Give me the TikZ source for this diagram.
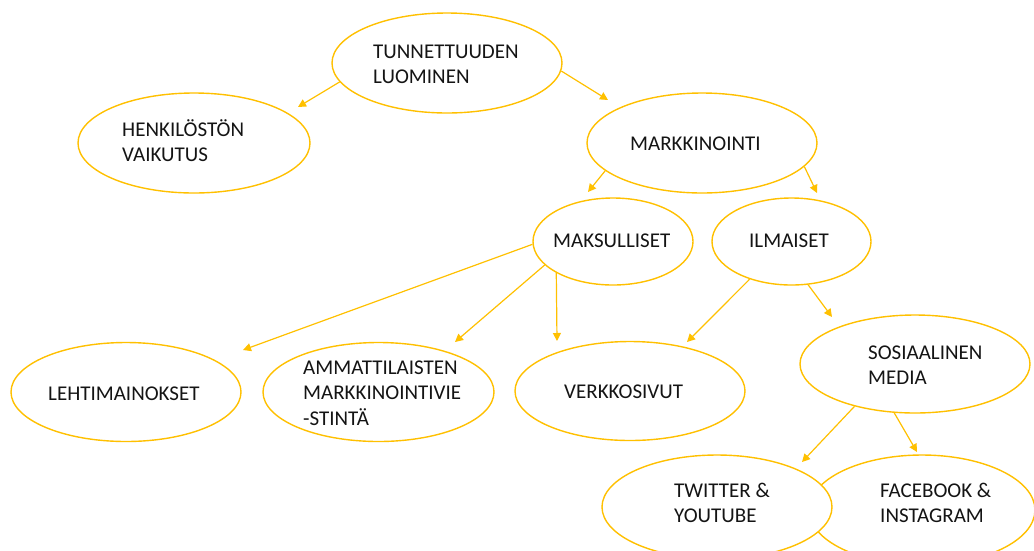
\documentclass[tikz,border=0pt]{standalone}
\usepackage{fontspec}
\setmainfont{Carlito}
\usetikzlibrary{shapes.geometric,arrows.meta}
\definecolor{gold}{RGB}{255,192,0}
\definecolor{ink}{RGB}{20,20,20}
\tikzset{
  ell/.style={ellipse, draw=gold, line width=1.4pt, fill=white, inner sep=0pt},
  txt/.style={anchor=base west, inner sep=0pt, align=left, text=ink,
              font=\fontsize{21}{25.5}\selectfont},
  arr/.style={draw=gold, line width=1.2pt, -{Triangle[length=8pt,width=8pt]}}
}
\begin{document}
\begin{tikzpicture}[x=1pt,y=-1pt]
\useasboundingbox (0,0) rectangle (1034,550);
\clip (0,0) rectangle (1034,550);
% ellipses
\node[ell, minimum width=230pt, minimum height=100pt] (tun) at (447,63) {};
\node[ell, minimum width=232pt, minimum height=100pt] (hen) at (194,143) {};
\node[ell, minimum width=230pt, minimum height=100pt] (mar) at (702,143) {};
\node[ell, minimum width=160pt, minimum height=87pt] (mak) at (613,241.5) {};
\node[ell, minimum width=159pt, minimum height=87pt] (ilm) at (791.5,241.5) {};
\node[ell, minimum width=230pt, minimum height=99pt] (leh) at (126,392) {};
\node[ell, minimum width=231pt, minimum height=99pt] (amm) at (378.5,392) {};
\node[ell, minimum width=230pt, minimum height=99pt] (ver) at (630,391) {};
\node[ell, minimum width=230pt, minimum height=98pt] (sos) at (915,364) {};
\node[ell, minimum width=226pt, minimum height=110pt] (fac) at (922,510) {};
\node[ell, minimum width=230pt, minimum height=104pt] (twi) at (717,507) {};
% texts (base = baseline of the last line)
\node[txt] (ttun) at (373,83.5) {TUNNETTUUDEN\\LUOMINEN};
\node[txt] (then) at (122,161.5) {HENKILÖSTÖN\\VAIKUTUS};
\node[txt] (tmar) at (630,150) {MARKKINOINTI};
\node[txt] (tmak) at (553,247) {MAKSULLISET};
\node[txt] (tilm) at (749,247) {ILMAISET};
\node[txt] (tleh) at (48,400) {LEHTIMAINOKSET};
\node[txt] (tamm) at (303,425) {AMMATTILAISTEN\\MARKKINOINTIVIE\\-STINTÄ};
\node[txt] (tver) at (564,398) {VERKKOSIVUT};
\node[txt] (tsos) at (868,384.5) {SOSIAALINEN\\MEDIA};
\node[txt] (ttwi) at (674,522.5) {TWITTER \&\\YOUTUBE};
\node[txt] (tfac) at (880,522.5) {FACEBOOK \&\\INSTAGRAM};
% arrow tips
\coordinate (phen) at (298,107);
\coordinate (pmar) at (608,100);
\coordinate (pmak) at (588,192);
\coordinate (pilm) at (817,193);
\coordinate (pleh) at (243,350);
\coordinate (pamm) at (455,342);
\coordinate (pver1) at (557,341);
\coordinate (pver2) at (687,342);
\coordinate (psos) at (832,317);
\coordinate (ptwi) at (802,462);
\coordinate (pfac) at (917,452);
% connectors
\draw[arr] (tun.190) -- (phen);
\draw[arr] (tun.-4) -- (pmar);
\draw[arr] (mar.196) -- (pmak);
\draw[arr] (mar.-13) -- (pilm);
\draw[arr] (mak.182) -- (pleh);
\draw[arr] (mak.199.4) -- (pamm);
\draw[arr] (mak.209.7) -- (pver1);
\draw[arr] (ilm.222.8) -- (pver2);
\draw[arr] (ilm.-69.6) -- (psos);
\draw[arr] (sos.215.8) -- (ptwi);
\draw[arr] (sos.247.8) -- (pfac);
\end{tikzpicture}
\end{document}
